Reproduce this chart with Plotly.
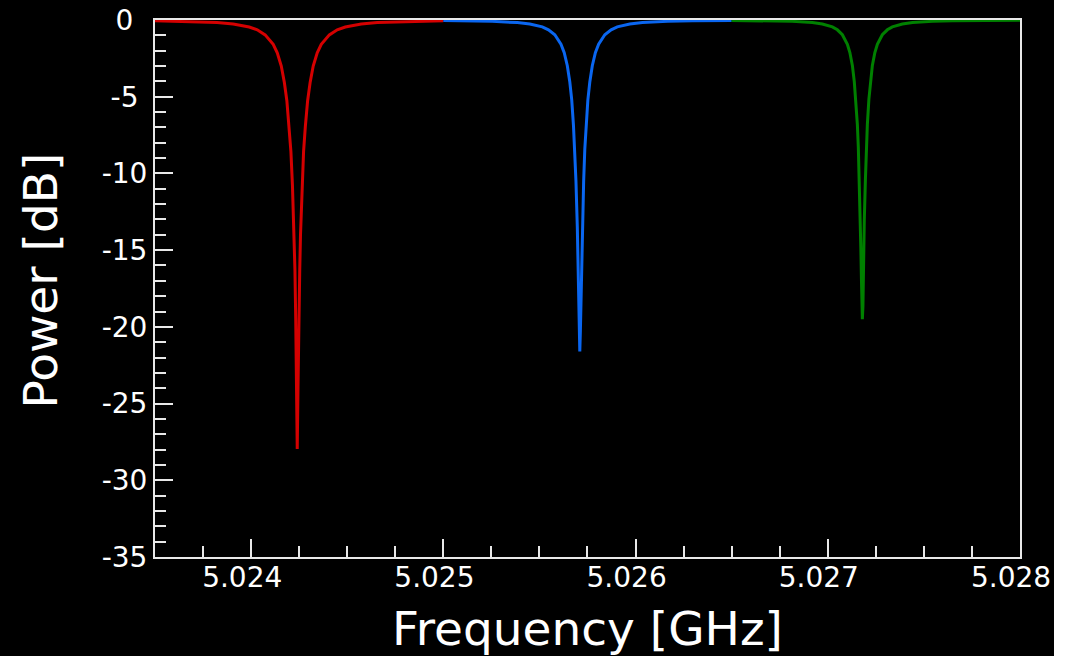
import plotly.graph_objects as go

# Resonance 1 (red)
red_freq = [5.0235, 5.023657, 5.023823, 5.023907, 5.02399, 5.024032, 5.024073, 5.024115,
            5.024136, 5.024157, 5.024173, 5.024186, 5.024198, 5.024207, 5.024215, 5.024223,
            5.024228, 5.024232, 5.024236, 5.02424, 5.024244, 5.024248, 5.024253, 5.024257,
            5.024265, 5.024273, 5.024282, 5.024294, 5.024307, 5.024323, 5.024344, 5.024365,
            5.024407, 5.024448, 5.02449, 5.024573, 5.024657, 5.024823, 5.025]
red_db = [-0.05, -0.09, -0.17, -0.26, -0.46, -0.64, -0.97, -1.59,
          -2.14, -3.00, -4.08, -5.26, -6.96, -8.56, -10.76, -13.98,
          -16.28, -19.40, -23.88, -27.96, -23.88, -19.40, -16.28, -13.98,
          -10.76, -8.56, -6.96, -5.26, -4.08, -3.00, -2.14, -1.59,
          -0.97, -0.64, -0.46, -0.26, -0.17, -0.09, -0.05]

# Resonance 2 (blue)
blue_freq = [5.025, 5.025124, 5.025254, 5.025385, 5.02545, 5.025515, 5.025547, 5.02558,
             5.025612, 5.025629, 5.025645, 5.025658, 5.025668, 5.025677, 5.025684, 5.02569,
             5.025697, 5.0257, 5.025703, 5.025707, 5.02571, 5.025713, 5.025717, 5.02572,
             5.025723, 5.02573, 5.025736, 5.025743, 5.025752, 5.025762, 5.025775, 5.025791,
             5.025808, 5.02584, 5.025873, 5.025905, 5.02597, 5.026036, 5.026166, 5.026296, 5.0265]
blue_db = [-0.036, -0.053, -0.087, -0.17, -0.26, -0.45, -0.64, -0.96,
           -1.58, -2.13, -2.98, -4.04, -5.20, -6.87, -8.42, -10.51,
           -13.46, -15.41, -17.76, -20.27, -21.60, -20.27, -17.76, -15.41,
           -13.46, -10.51, -8.42, -6.87, -5.20, -4.04, -2.98, -2.13,
           -1.58, -0.96, -0.64, -0.45, -0.26, -0.17, -0.087, -0.053, -0.029]

# Resonance 3 (green)
green_freq = [5.0265, 5.026555, 5.026711, 5.026815, 5.02692, 5.026972, 5.027024, 5.02705,
              5.027076, 5.027102, 5.027115, 5.027128, 5.027138, 5.027146, 5.027154, 5.027159,
              5.027164, 5.02717, 5.027172, 5.027175, 5.027177, 5.02718, 5.027183, 5.027185,
              5.027188, 5.02719, 5.027196, 5.027201, 5.027206, 5.027214, 5.027222, 5.027232,
              5.027245, 5.027258, 5.027284, 5.02731, 5.027336, 5.027388, 5.027441, 5.027545,
              5.027649, 5.027805, 5.028]
green_db = [-0.025, -0.030, -0.053, -0.087, -0.17, -0.26, -0.45, -0.64,
            -0.96, -1.58, -2.12, -2.96, -4.01, -5.16, -6.80, -8.31,
            -10.32, -13.08, -14.82, -16.78, -18.64, -19.50, -18.64, -16.78,
            -14.82, -13.08, -10.32, -8.31, -6.80, -5.16, -4.01, -2.96,
            -2.12, -1.58, -0.96, -0.64, -0.45, -0.26, -0.17, -0.087,
            -0.053, -0.030, -0.017]

x_tickvals = [5.024, 5.025, 5.026, 5.027, 5.028]
x_ticktext = ["5.024", "5.025", "5.026", "5.027", "5.028"]
y_tickvals = [0, -5, -10, -15, -20, -25, -30, -35]
y_ticktext = ["0", "-5", "-10", "-15", "-20", "-25", "-30", "-35"]

NB = "\u00a0"
EN = "\u2002"
x_ticktext_pad = [t + NB + NB for t in x_ticktext]
y_ticktext_pad = [t + (EN if len(t) == 1 else (NB if len(t) == 2 else "")) for t in y_ticktext]

FONT = "DejaVu Sans, Verdana, sans-serif"
AXC = "#e8e8e8"

fig = go.Figure()
fig.add_trace(go.Scatter(x=red_freq, y=red_db, mode="lines",
                         line=dict(color="#d40000", width=3), showlegend=False))
fig.add_trace(go.Scatter(x=blue_freq, y=blue_db, mode="lines",
                         line=dict(color="#0a66f0", width=3), showlegend=False))
fig.add_trace(go.Scatter(x=green_freq, y=green_db, mode="lines",
                         line=dict(color="#008000", width=3), showlegend=False))

fig.update_layout(
    width=1054, height=656,
    margin=dict(l=155, r=34, t=20, b=99, pad=0),
    paper_bgcolor="black", plot_bgcolor="black",
    font=dict(family=FONT, color="white"),
    xaxis=dict(
        range=[5.0235, 5.0280001], showgrid=False, zeroline=False,
        showline=True, linecolor=AXC, linewidth=2, mirror=True,
        ticks="inside", ticklen=18, tickwidth=2, tickcolor=AXC,
        tickvals=x_tickvals, ticktext=x_ticktext_pad,
        tickfont=dict(size=28, family=FONT, color="white"),
        ticklabelstandoff=-6, ticklabeloverflow="allow",
        minor=dict(dtick=0.00025, tick0=5.0235, ticks="inside", ticklen=11, tickwidth=2, tickcolor=AXC, showgrid=False),
        title=dict(text="Frequency [GHz]", font=dict(size=47, family=FONT, color="white"), standoff=20),
        automargin=False,
    ),
    yaxis=dict(
        range=[-35, 0], showgrid=False, zeroline=False,
        showline=True, linecolor=AXC, linewidth=2, mirror=True,
        ticks="inside", ticklen=18, tickwidth=2, tickcolor=AXC,
        tickvals=y_tickvals, ticktext=y_ticktext_pad,
        tickfont=dict(size=28, family=FONT, color="white"),
        ticklabeloverflow="allow",
        minor=dict(dtick=1, tick0=0, ticks="inside", ticklen=11, tickwidth=2, tickcolor=AXC, showgrid=False),
        automargin=False,
    ),
    annotations=[dict(
        text="Power [dB]", textangle=-90, showarrow=False,
        xref="paper", yref="paper", x=0, y=0.5, xshift=-115, yshift=8,
        xanchor="center", yanchor="middle",
        font=dict(size=47, family=FONT, color="white"),
    )],
)

fig.write_html("out.html")
